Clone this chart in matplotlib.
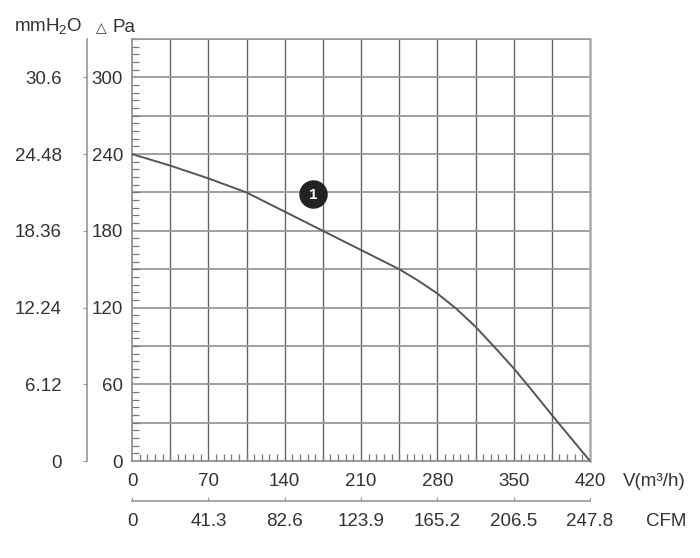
import matplotlib
matplotlib.use("Agg")
import matplotlib.pyplot as plt
from matplotlib.ticker import MultipleLocator, FixedLocator

plt.rcParams['font.family'] = ['Liberation Sans', 'DejaVu Sans']
plt.rcParams['mathtext.fontset'] = 'custom'
plt.rcParams['mathtext.rm'] = 'Liberation Sans'

# data
flow_m3h = [0, 35, 70, 105, 140, 175, 210, 245, 262.5, 280, 297.5, 315, 332.5,
            350, 367.5, 385, 402.5, 420]
pressure_pa = [240, 231, 221, 210, 195, 180, 165, 150, 141, 131, 119, 105, 89,
               72.5, 54.5, 36, 18, 0]
v_ticks = [0, 70, 140, 210, 280, 350, 420]
pa_ticks = [0, 60, 120, 180, 240, 300]
mm_labels = ['0', '6.12', '12.24', '18.36', '24.48', '30.6']
cfm_labels = ['0', '41.3', '82.6', '123.9', '165.2', '206.5', '247.8']
marker_label = '1'
marker_pos = (166, 209)

TXT = '#333333'
fs = 13.5

fig = plt.figure(figsize=(7, 5.58), dpi=100)
ax = fig.add_axes([132/700, 97/558, 458/700, 422/558])
ax.set_xlim(0, 420)
ax.set_ylim(0, 330)

# grid
for xv in range(35, 420, 35):
    ax.axvline(xv, color='#666666', lw=1.0, zorder=1)
for yv in range(30, 331, 30):
    ax.axhline(yv, color='#999999', lw=1.3, zorder=1)

ax.plot(flow_m3h, pressure_pa, color='#555555', lw=1.4, zorder=3,
        solid_capstyle='round', solid_joinstyle='round')

ax.plot([marker_pos[0]], [marker_pos[1]], 'o', ms=19.5, color='#222222', zorder=4)
ax.text(marker_pos[0], marker_pos[1] - 1, marker_label, color='white', fontsize=11,
        fontweight='bold', ha='center', va='center', zorder=5)

for s in ['left', 'bottom']:
    ax.spines[s].set_color('#888888')
    ax.spines[s].set_linewidth(1.2)
ax.spines['top'].set_color('#999999')
ax.spines['top'].set_linewidth(1.2)
ax.spines['right'].set_color('#aaaaaa')
ax.spines['right'].set_linewidth(1.8)

ax.xaxis.set_major_locator(FixedLocator(v_ticks))
ax.yaxis.set_major_locator(FixedLocator(pa_ticks))
ax.xaxis.set_minor_locator(MultipleLocator(7))
ax.yaxis.set_minor_locator(MultipleLocator(6))
ax.tick_params(axis='both', which='major', direction='in', length=0, labelsize=fs,
               labelcolor=TXT)
ax.tick_params(axis='both', which='minor', direction='in', length=5, width=0.9,
               color='#777777')
ax.tick_params(axis='x', which='major', pad=9)
ax.tick_params(axis='y', which='major', pad=6.5)

# secondary mmH2O axis on the left
sec_y = ax.secondary_yaxis(-0.0983)
sec_y.set_yticks(pa_ticks)
sec_y.set_yticklabels(mm_labels)
sec_y.spines['left'].set_color('#999999')
sec_y.spines['left'].set_linewidth(1.2)
sec_y.tick_params(direction='out', length=3, color='#999999', labelsize=fs,
                  labelcolor=TXT, pad=15)

# secondary CFM axis at the bottom
sec_x = ax.secondary_xaxis(-0.094)
sec_x.set_xticks(v_ticks)
sec_x.set_xticklabels(cfm_labels)
sec_x.spines['bottom'].set_color('#999999')
sec_x.spines['bottom'].set_linewidth(1.2)
sec_x.tick_params(direction='in', length=3, color='#999999', labelsize=fs,
                  labelcolor=TXT, pad=9)

# axis titles
fig.text(14/700, 1 - 27/558, r'mmH$_\mathregular{2}$O', fontsize=fs, color=TXT,
         ha='left', va='center')
fig.text(96/700, 1 - 28/558, '△', fontsize=10, color=TXT, ha='left', va='center',
         family=['DejaVu Sans'])
fig.text(112/700, 1 - 27/558, 'Pa', fontsize=fs, color=TXT, ha='left', va='center')
fig.text(686/700, 1 - 482/558, 'V(m³/h)', fontsize=fs, color=TXT, ha='right', va='center')
fig.text(686/700, 1 - 522/558, 'CFM', fontsize=fs, color=TXT, ha='right', va='center')

fig.savefig('out.png', dpi=100, facecolor='white')
